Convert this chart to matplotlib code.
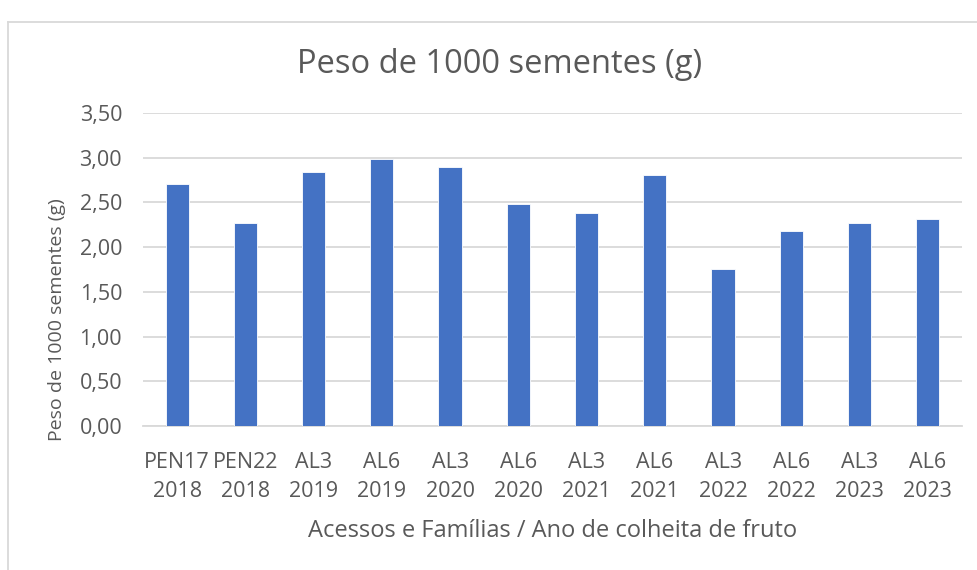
import matplotlib
matplotlib.use('Agg')
import matplotlib.pyplot as plt
from matplotlib.lines import Line2D
import numpy as np

acessos = ['PEN17', 'PEN22', 'AL3', 'AL6', 'AL3', 'AL6', 'AL3', 'AL6', 'AL3', 'AL6', 'AL3', 'AL6']
anos = ['2018', '2018', '2019', '2019', '2020', '2020', '2021', '2021', '2022', '2022', '2023', '2023']
peso = [2.705, 2.265, 2.84, 2.985, 2.90, 2.485, 2.385, 2.81, 1.755, 2.18, 2.265, 2.31]

plt.rcParams['font.family'] = ['Open Sans', 'DejaVu Sans']
cinza = '#595959'

fig = plt.figure(figsize=(9.78, 5.70), dpi=100)
ax = fig.add_axes([0.1462, 0.2526, 0.8374, 0.5491])

x = np.arange(len(peso))
ax.bar(x, peso, width=0.34, color='#4472C4', edgecolor='white', linewidth=0.6, zorder=3)

ax.set_xlim(-0.5, len(peso) - 0.5)
ax.set_ylim(0, 3.5)
ax.set_yticks(np.arange(0, 3.51, 0.5))
ax.set_yticklabels(['{:.2f}'.format(v).replace('.', ',') for v in np.arange(0, 3.51, 0.5)])
ax.set_xticks(x)
ax.set_xticklabels(['{}\n{}'.format(a, b) for a, b in zip(acessos, anos)], linespacing=1.5)
ax.tick_params(axis='both', length=0, labelsize=15.5, colors=cinza)
ax.tick_params(axis='x', pad=18.5)
ax.tick_params(axis='y', pad=15)
ax.grid(axis='y', color='#d9d9d9', linewidth=1.3, zorder=0)
for s in ['top', 'right', 'left']:
    ax.spines[s].set_visible(False)
ax.spines['bottom'].set_color('#d9d9d9')
ax.spines['bottom'].set_linewidth(1.3)

fig.text(0.511, 0.886, 'Peso de 1000 sementes (g)', ha='center', va='center', fontsize=23.5, color=cinza)
fig.text(0.565, 0.069, 'Acessos e Famílias / Ano de colheita de fruto', ha='center', va='center',
         fontsize=17, color=cinza)
fig.text(0.058, 0.44, 'Peso de 1000 sementes (g)', ha='center', va='center', rotation=90,
         fontsize=14, color=cinza)

# moldura do gráfico (apenas bordas visíveis)
fig.add_artist(Line2D([0.008, 1.0], [0.962, 0.962], transform=fig.transFigure, color='#d9d9d9', linewidth=1.3))
fig.add_artist(Line2D([0.008, 0.008], [0.0, 0.962], transform=fig.transFigure, color='#d9d9d9', linewidth=1.3))

plt.savefig('out.png', dpi=100)
